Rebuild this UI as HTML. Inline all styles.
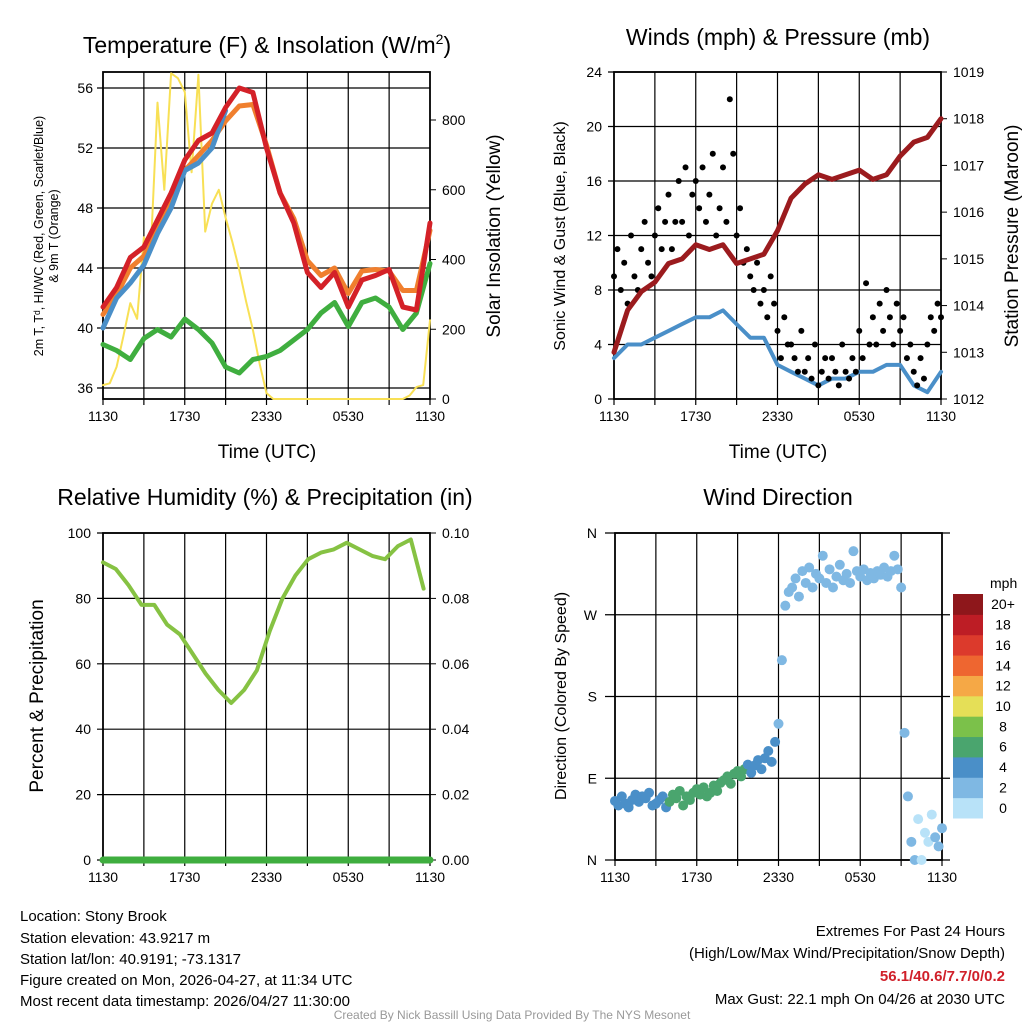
<!DOCTYPE html>
<html><head><meta charset="utf-8">
<style>
html,body{margin:0;padding:0;background:#fff;}
svg{display:block;font-family:"Liberation Sans",sans-serif;}
</style></head>
<body>
<svg id="c" width="1024" height="1024" viewBox="0 0 1024 1024" xmlns="http://www.w3.org/2000/svg">
<g id="p1"></g>
<g id="p2"></g>
<g id="p3"></g>
<g id="p4"></g>
<text x="267" y="53" font-size="23" text-anchor="middle">Temperature (F) &amp; Insolation (W/m<tspan dy="-9" font-size="14">2</tspan><tspan dy="9">)</tspan></text>
<text x="778" y="45" font-size="23" text-anchor="middle">Winds (mph) &amp; Pressure (mb)</text>
<text x="265" y="505" font-size="23" text-anchor="middle">Relative Humidity (%) &amp; Precipitation (in)</text>
<text x="778" y="505" font-size="23" text-anchor="middle">Wind Direction</text>
<g font-size="15">
<text x="20" y="921">Location: Stony Brook</text>
<text x="20" y="943">Station elevation: 43.9217 m</text>
<text x="20" y="964">Station lat/lon: 40.9191; -73.1317</text>
<text x="20" y="985">Figure created on Mon, 2026-04-27, at 11:34 UTC</text>
<text x="20" y="1006">Most recent data timestamp: 2026/04/27 11:30:00</text>
</g>
<g font-size="15" text-anchor="end">
<text x="1005" y="936">Extremes For Past 24 Hours</text>
<text x="1005" y="958">(High/Low/Max Wind/Precipitation/Snow Depth)</text>
<text x="1005" y="981" fill="#d0202a" font-weight="bold">56.1/40.6/7.7/0/0.2</text>
<text x="1005" y="1004">Max Gust: 22.1 mph On 04/26 at 2030 UTC</text>
</g>
<text x="512" y="1019" font-size="12" fill="#999" text-anchor="middle">Created By Nick Bassill Using Data Provided By The NYS Mesonet</text>
</svg>
<script>
// ---- data ----
const timeTicks = ["1130","1730","2330","0530","1130"];
const tempRed = [41.4,42.7,44.7,45.4,47.2,49.0,51.2,52.5,53.0,54.7,56.0,55.7,52.0,49.0,47.0,43.7,42.7,43.7,41.4,43.2,43.5,43.9,41.4,41.2,47.0];
const tempOrange = [40.9,42.2,44.0,44.8,46.6,48.5,50.5,51.5,52.5,53.8,54.8,54.9,52.2,49.0,47.3,44.5,43.5,44.0,42.3,43.8,43.9,43.8,42.5,42.5,46.5];
const tempBlue = [40.0,42.0,43.0,44.2,46.3,48.0,50.5,51.0,52.0,54.5];
const dewGreen = [38.9,38.5,37.9,39.3,39.9,39.4,40.6,39.9,39.0,37.4,37.0,37.9,38.1,38.5,39.2,39.9,41.0,41.7,40.1,41.7,42.0,41.4,39.9,41.0,44.3];
const solar = [40,45,92,180,275,230,464,420,850,600,934,920,880,650,930,480,560,600,520,450,370,280,198,100,17,0,0,0,0,0,0,0,0,0,0,0,0,0,0,0,0,0,0,0,0,10,34,40,226];
const tempTicks = [36,40,44,48,52,56];
const solarTicks = [0,200,400,600,800];
const windSpeed = [3,4,4,4.5,5,5.5,6,6,6.5,5.5,4.5,4.5,2.5,2,1.5,1,1.5,1.5,2,2,2.5,2.5,1,0.5,2];
const windGust = [9,11,8,10,7,12,9,8,11,13,10,9,12,14,11,13,15,11,13,16,13,17,12,15,16,14,17,13,15,18,12,14,17,13,22,18,12,14,10,11,9,8,10,7,8,6,9,7,5,3,6,4,4,3,2,5,2,3,1.5,4,1,2,3,1.5,3,2,1,4,2,1.5,3,2,5,3,8.5,4,6,4,7,5,8,6,4,7,5,6,3,4,2,1,3,1.5,4,6,5,7,6];
const pressure = [1013.0,1013.9,1014.3,1014.5,1014.9,1015.0,1015.3,1015.2,1015.3,1014.9,1015.0,1015.1,1015.6,1016.3,1016.6,1016.8,1016.7,1016.8,1016.9,1016.7,1016.8,1017.2,1017.5,1017.6,1018.0];
const windTicks = [0,4,8,12,16,20,24];
const pressTicks = [1012,1013,1014,1015,1016,1017,1018,1019];
const rh = [91,89,84,78,78,72,69,63,57,52,48,52,58,70,80,87,92,94,95,97,95,93,92,96,98,83];
const precip = [0,0,0,0,0,0,0,0,0,0,0,0,0,0,0,0,0,0,0,0,0,0,0,0,0];
const rhTicks = [0,20,40,60,80,100];
const precipTicks = ["0.00","0.02","0.04","0.06","0.08","0.10"];
const windDir = [65,60,70,62,58,66,72,64,70,68,74,60,62,66,70,58,64,72,68,76,60,70,66,74,78,72,80,70,74,82,76,85,88,92,84,95,98,92,100,105,96,104,110,100,112,120,108,130,150,220,280,295,300,310,290,318,305,322,300,315,310,335,305,320,300,312,325,308,315,305,340,318,312,320,308,316,310,318,314,322,312,318,335,320,300,140,70,20,0,45,0,30,20,50,25,15,35];
const dirLabels = ["N","E","S","W","N"];
const cbLabels = ["0","2","4","6","8","10","12","14","16","18","20+"];
const cbColors = ["#b8e2f8","#7fb8e3","#4a8fc8","#4aa56e","#7bc14a","#e5df57","#f5a846","#ee6630","#dc3a2c","#bd1d25","#8e171b"];

const NS="http://www.w3.org/2000/svg";
function mk(parent,tag,attrs){const e=document.createElementNS(NS,tag);for(const k in attrs)e.setAttribute(k,attrs[k]);parent.appendChild(e);return e;}
function lin(d0,d1,r0,r1){return v=>r0+(v-d0)/(d1-d0)*(r1-r0);}

function frame(g,x0,x1,y0,y1){
  const xs=lin(0,24,x0,x1);
  for(let h=3;h<24;h+=3){const l=mk(g,'line',{x1:xs(h),x2:xs(h),y1:y0,y2:y1,stroke:'#000','stroke-width':1.2});
    
    }
  const r=mk(g,'rect',{x:x0,y:y0,width:x1-x0,height:y1-y0,fill:'none',stroke:'#000','stroke-width':1.8});
  
  
  timeTicks.forEach((t,i)=>{const x=xs(i*6);
    mk(g,'line',{x1:x,x2:x,y1:y1,y2:y1+6,stroke:'#000','stroke-width':1.2});
    const tx=mk(g,'text',{x:x,y:y1+22,'font-size':14,'text-anchor':'middle'});tx.textContent=t;
    
    });
  for(let h=3;h<24;h+=6){mk(g,'line',{x1:xs(h),x2:xs(h),y1:y1,y2:y1+6,stroke:'#000','stroke-width':1.2});}
  return xs;
}
function hgrid(g,x0,x1,y){mk(g,'line',{x1:x0,x2:x1,y1:y,y2:y,stroke:'#000','stroke-width':1.2});}
function ylab(g,x,y,t,anchor){const e=mk(g,'text',{x:x,y:y+5,'font-size':14,'text-anchor':anchor});e.textContent=t;
  
  return e;}
function rot(g,x,y,t,size,name){const e=mk(g,'text',{x:0,y:0,'font-size':size,'text-anchor':'middle',transform:`translate(${x},${y}) rotate(-90)`});e.textContent=t;
  
  return e;}
function path(g,arr,xs,ys,step,stroke,w,name){
  const d=arr.map((v,i)=>(i?'L':'M')+xs(i*step).toFixed(1)+','+ys(v).toFixed(1)).join('');
  const p=mk(g,'path',{d:d,fill:'none',stroke:stroke,'stroke-width':w,'stroke-linejoin':'round','stroke-linecap':'round'});
  
  return p;}

// ---- Panel 1 ----
(function(){
  const g=document.getElementById('p1');const X0=103,X1=430,Y0=72,Y1=399;
  const yT=lin(56,36,88,388), yS=lin(0,800,399,120);
  tempTicks.forEach(v=>{hgrid(g,X0-6,X1,yT(v));ylab(g,X0-10,yT(v),v,'end');});
  solarTicks.forEach(v=>{mk(g,'line',{x1:X1,x2:X1+6,y1:yS(v),y2:yS(v),stroke:'#000'});ylab(g,X1+12,yS(v),v,'start');});
  const xs=frame(g,X0,X1,Y0,Y1);
  path(g,solar,xs,yS,0.5,'#f8e055',2,'solar-insolation-line');
  path(g,dewGreen,xs,yT,1,'#3fae3f',5,'dewpoint-line');
  path(g,tempOrange,xs,yT,1,'#f07f2e',5,'9m-temperature-line');
  path(g,tempBlue,xs,yT,1,'#4a8fc8',5,'heat-index-windchill-line');
  path(g,tempRed,xs,yT,1,'#d42128',5,'2m-temperature-line');
  const t=mk(g,'text',{x:267,y:458,'font-size':19,'text-anchor':'middle'});t.textContent='Time (UTC)';
  
  
  rot(g,43,236,'2m T, T\u1d48, HI/WC (Red, Green, Scarlet/Blue)',12.5,'y-axis-title');
  rot(g,58,236,'& 9m T (Orange)',12.5,'y-axis-title-line2');
  rot(g,500,236,'Solar Insolation (Yellow)',19,'y2-axis-title');
})();

// ---- Panel 2 ----
(function(){
  const g=document.getElementById('p2');const X0=614,X1=941,Y0=72,Y1=399;
  const yW=lin(0,24,399,72), yP=lin(1012,1019,399,72);
  windTicks.forEach(v=>{hgrid(g,X0-6,X1,yW(v));ylab(g,X0-12,yW(v),v,'end');});
  pressTicks.forEach(v=>{mk(g,'line',{x1:X1,x2:X1+6,y1:yP(v),y2:yP(v),stroke:'#000'});ylab(g,X1+12,yP(v),v,'start');});
  const xs=frame(g,X0,X1,Y0,Y1);
  path(g,windSpeed,xs,yW,1,'#4a8fc8',4,'sonic-wind-line');
  windGust.forEach((v,i)=>{const c=mk(g,'circle',{cx:xs(i*0.25),cy:yW(v),r:3,fill:'#000'});
    
    });
  path(g,pressure,xs,yP,1,'#9b1b1e',5,'pressure-line');
  const t=mk(g,'text',{x:778,y:458,'font-size':19,'text-anchor':'middle'});t.textContent='Time (UTC)';
  
  
  rot(g,565,236,'Sonic Wind & Gust (Blue, Black)',16,'y-axis-title');
  rot(g,1018,236,'Station Pressure (Maroon)',19,'y2-axis-title');
})();

// ---- Panel 3 ----
(function(){
  const g=document.getElementById('p3');const X0=103,X1=430,Y0=533,Y1=860;
  const yR=lin(0,100,860,533);
  rhTicks.forEach((v,i)=>{hgrid(g,X0-6,X1,yR(v));ylab(g,X0-12,yR(v),v,'end');
    mk(g,'line',{x1:X1,x2:X1+6,y1:yR(v),y2:yR(v),stroke:'#000'});ylab(g,X1+12,yR(v),precipTicks[i],'start');});
  const xs=frame(g,X0,X1,Y0,Y1);
  const yP=lin(0,0.1,860,533);
  path(g,precip,xs,yP,1,'#3fae3f',7,'precipitation-line');
  path(g,rh,xs,yR,24/25.5,'#86c243',4,'relative-humidity-line');
  rot(g,43,696,'Percent & Precipitation',19,'y-axis-title');
})();

// ---- Panel 4 ----
(function(){
  const g=document.getElementById('p4');const X0=615,X1=942,Y0=533,Y1=860;
  const yD=lin(0,360,860,533);
  dirLabels.forEach((t,i)=>{mk(g,'line',{x1:X0-10,x2:X1+8,y1:yD(i*90),y2:yD(i*90),stroke:'#000','stroke-width':1.2});ylab(g,X0-18,yD(i*90),t,'end');});
  const xs=frame(g,X0,X1,Y0,Y1);
  windDir.forEach((v,i)=>{const h=i*0.25;const k=Math.min(Math.floor(h),23);const s=windSpeed[k]+(windSpeed[k+1]-windSpeed[k])*(h-k);
    const ci=Math.min(10,Math.max(0,Math.round(s/2)));
    const c=mk(g,'circle',{cx:xs(h),cy:yD(v),r:5,fill:cbColors[ci]});
    
    });
  rot(g,566,696,'Direction (Colored By Speed)',16,'y-axis-title');
  const bh=224/11;
  cbColors.forEach((col,i)=>{const y=818-(i+1)*bh;
    const r=mk(g,'rect',{x:953,y:y,width:30,height:bh+0.5,fill:col});
    
    
    const t=mk(g,'text',{x:1003,y:y+bh/2+5,'font-size':14,'text-anchor':'middle'});t.textContent=cbLabels[i];
    
    });
  const m=mk(g,'text',{x:990,y:588,'font-size':14});m.textContent='mph';
  
  
})();
</script>
</body></html>
